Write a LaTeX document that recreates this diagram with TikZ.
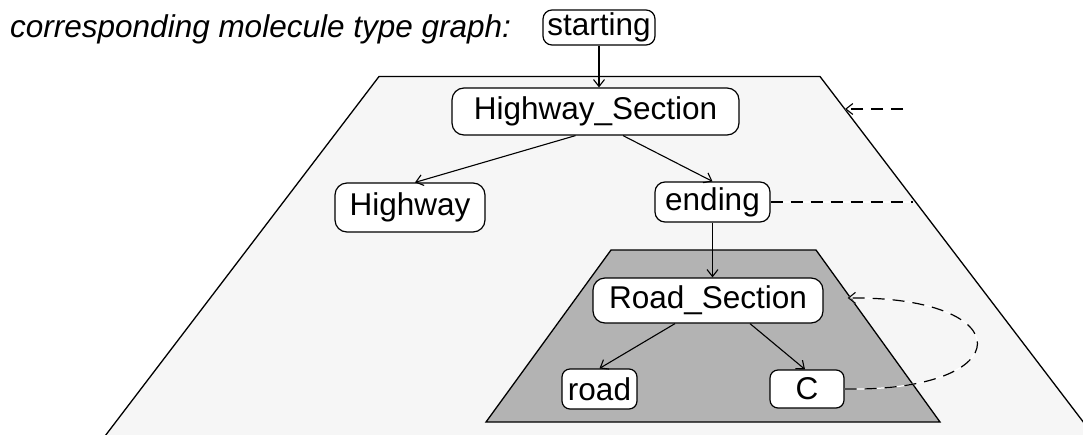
\documentclass[tikz,border=0pt]{standalone}
\usepackage{fontspec}
\setmainfont{Liberation Sans}
\usetikzlibrary{arrows.meta,calc}
\definecolor{planefill}{HTML}{F6F6F6}
\definecolor{innerfill}{HTML}{B3B3B3}

\begin{document}
\begin{tikzpicture}[x=1pt,y=-1pt,
  box/.style={draw, fill=white, rounded corners=12pt, line width=1.2pt,
    inner sep=0pt, font=\fontsize{31.5}{36}\selectfont},
  tip/.style={-{Straight Barb[length=7pt,width=11pt,line width=1.1pt]}},
  edge/.style={line width=1.1pt, tip},
  link/.style={line width=1.2pt, dash pattern=on 12pt off 8pt,
    preaction={draw=white, solid, line width=1.2pt}},
  plane/.style={draw, line width=1.3pt}]

\useasboundingbox (0,0) rectangle (1083,434);
\clip (0,0) rectangle (1083,434);

% outer plane and inner plane
\draw[plane, fill=planefill] (379,76.5) -- (820,76.5) -- (1097,440) -- (102,440) -- cycle;
\draw[plane, fill=innerfill] (611,250) -- (816,250) -- (940,422) -- (486,422) -- cycle;

% caption
\node[anchor=base west, inner sep=0pt, font=\fontsize{31.5}{36}\selectfont\itshape]
  (title) at (10,37) {corresponding molecule type graph:};

% molecule type nodes
\node[box, minimum width=112pt, minimum height=35pt, rounded corners=9pt] (starting) at (599,27.5) {starting};
\node[box, minimum width=287pt, minimum height=47pt] (hs) at (595.5,111.5) {Highway\_Section};
\node[box, minimum width=150pt, minimum height=49pt] (highway) at (410,207.5) {Highway};
\node[box, minimum width=115pt, minimum height=40pt, rounded corners=10pt] (ending) at (712.5,202) {ending};
\node[box, minimum width=230pt, minimum height=45pt] (rs) at (708,300.5) {Road\_Section};
\node[box, minimum width=75pt, minimum height=40pt, rounded corners=8pt] (road) at (599.5,389) {road};
\node[box, minimum width=74pt, minimum height=38pt, rounded corners=8pt] (c) at (807,389) {C};

% hierarchy edges
\draw[edge] (starting.south) -- (starting.south |- hs.north);
\draw[edge] ($(hs.south)+(-20,0)$) -- ($(highway.north)+(5,0)$);
\draw[edge] ($(hs.south)+(27.5,0)$) -- (ending.north);
\draw[edge] (ending.south) -- (ending.south |- rs.north);
\draw[edge] ($(rs.south)+(-33,0)$) -- (road.north);
\draw[edge] ($(rs.south)+(42,0)$) -- ($(c.north)+(-2,0)$);

% dashed links
\coordinate (endlink) at (913,202);
\draw[link] (ending.east) -- (endlink);

\coordinate (upstart) at (903,109);
\coordinate (uptip) at (845,109);
\draw[link, tip] (upstart) -- (uptip);

\coordinate (rsloop) at ($(rs.east)+(24,-2.5)$);
\draw[link, tip] (c.east) .. controls (1021,392) and (1021,296) .. (rsloop);
\end{tikzpicture}
\end{document}
